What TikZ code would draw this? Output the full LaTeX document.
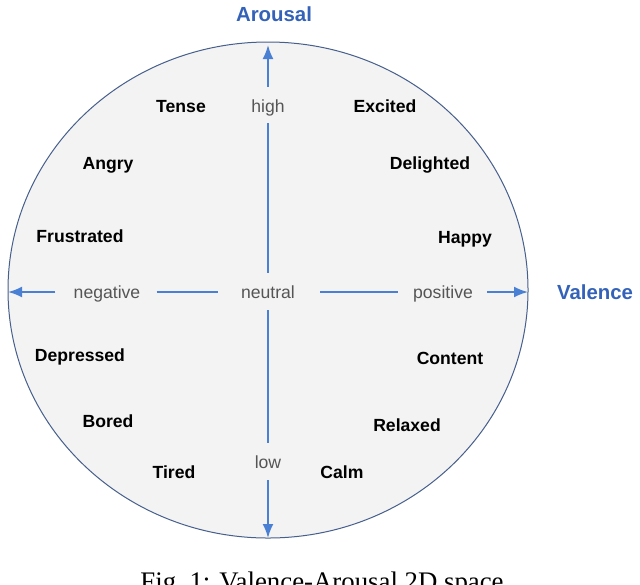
\documentclass[tikz,border=0pt]{standalone}
\usepackage{fontspec}
\setmainfont{Liberation Serif}
\setsansfont{Liberation Sans}
\usetikzlibrary{arrows.meta}
\definecolor{axisblue}{RGB}{74,128,212}
\definecolor{titleblue}{RGB}{52,98,184}
\definecolor{rimblue}{RGB}{70,95,140}
\definecolor{discfill}{RGB}{243,243,243}
\definecolor{polegray}{RGB}{85,85,85}

\begin{document}
\begin{tikzpicture}[x=0.5pt,y=-0.5pt]
            \tikzstyle{every node}+=[inner sep=0pt]
            \tikzstyle{emotion}=[font=\sffamily\bfseries\fontsize{8.8}{10}\selectfont, text height=7pt, text depth=0.6pt]
            \tikzstyle{pole}=[font=\sffamily\fontsize{8.8}{10}\selectfont, text=polegray, text height=7pt, text depth=0.6pt]
            \tikzstyle{dimension}=[font=\sffamily\bfseries\fontsize{10.2}{12}\selectfont, text=titleblue, text height=8pt, text depth=0.7pt]
            \tikzstyle{axis}=[draw=axisblue, line width=1pt]
            \tikzstyle{tip}=[axis, -{Latex[length=7pt,width=5.5pt]}]
            \useasboundingbox (0,0) rectangle (640,584);
            \draw [rimblue, fill=discfill, line width=0.5pt] (268,290) ellipse [x radius=260, y radius=248];
            \coordinate (top) at (268,45);
            \coordinate (bottom) at (268,538);
            \coordinate (left) at (8,292);
            \coordinate (right) at (528,292);
            \node [pole] (high) at (268,106) {high};
            \node [pole] (neutral) at (268,292) {neutral};
            \node [pole] (low) at (268,462) {low};
            \node [pole] (negative) at (107,292) {negative};
            \node [pole] (positive) at (443,292) {positive};
            \node [dimension] (arousal) at (274,14) {Arousal};
            \node [dimension] (valence) at (595,292) {Valence};
            \draw [axis, shorten <=4.7pt, shorten >=5.7pt] (high) -- (neutral);
            \draw [axis, shorten <=5.2pt, shorten >=5.7pt] (neutral) -- (low);
            \draw [tip, shorten <=5.7pt] (high) -- (top);
            \draw [tip, shorten <=5.2pt] (low) -- (bottom);
            \draw [axis, shorten <=8pt, shorten >=11.5pt] (negative) -- (neutral);
            \draw [axis, shorten <=12.5pt, shorten >=7.5pt] (neutral) -- (positive);
            \draw [tip, shorten <=9pt] (negative) -- (left);
            \draw [tip, shorten <=7pt] (positive) -- (right);
            \node [emotion] (tense) at (181,106) {Tense};
            \node [emotion] (angry) at (108,163) {Angry};
            \node [emotion] (frustrated) at (80,236) {Frustrated};
            \node [emotion] (depressed) at (80,355) {Depressed};
            \node [emotion] (bored) at (108,421) {Bored};
            \node [emotion] (tired) at (174,472) {Tired};
            \node [emotion] (excited) at (385,106) {Excited};
            \node [emotion] (delighted) at (430,163) {Delighted};
            \node [emotion] (happy) at (465,237) {Happy};
            \node [emotion] (content) at (450,358) {Content};
            \node [emotion] (relaxed) at (407,425) {Relaxed};
            \node [emotion] (calm) at (342,472) {Calm};
            \node [font=\fontsize{13.4}{16}\selectfont, anchor=base] (caption) at (322,590) {Fig.~1: Valence-Arousal 2D space};
\end{tikzpicture}
\end{document}
